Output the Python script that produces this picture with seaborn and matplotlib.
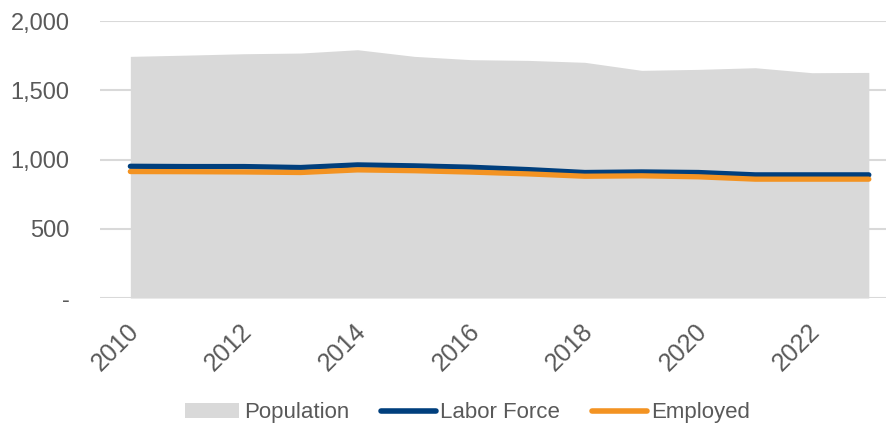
import numpy as np
import pandas as pd
import matplotlib
matplotlib.use("Agg")
import matplotlib.pyplot as plt
import matplotlib.transforms as mtransforms
import seaborn as sns
from matplotlib.patches import Patch
from matplotlib.lines import Line2D
from matplotlib.ticker import FuncFormatter

# ---- data ----
years = [2010, 2011, 2012, 2013, 2014, 2015, 2016, 2017, 2018, 2019, 2020, 2021, 2022, 2023]
population = [1746, 1755, 1765, 1770, 1794, 1746, 1722, 1717, 1703, 1645, 1652, 1664, 1628, 1630]
labor_force = [952, 950, 950, 943, 962, 955, 945, 928, 907, 911, 907, 890, 890, 890]
employed = [914, 913, 911, 907, 926, 920, 910, 897, 880, 883, 876, 859, 859, 859]

POP_COLOR = "#D9D9D9"
LF_COLOR = "#003F7D"
EMP_COLOR = "#F39322"
TEXT_COLOR = "#595959"

df = pd.DataFrame({"year": years, "Population": population,
                   "Labor Force": labor_force, "Employed": employed})

sns.set_style("white")
plt.rcParams['font.family'] = ['Liberation Sans', 'DejaVu Sans']

fig = plt.figure(figsize=(8.87, 4.24), dpi=100)
ax = fig.add_axes([0.113, 0.297, 0.887, 0.653])

ax.fill_between(df["year"], 0, df["Population"], color=POP_COLOR, lw=0, zorder=2)
sns.lineplot(data=df, x="year", y="Labor Force", color=LF_COLOR, lw=3.8,
             solid_capstyle="round", ax=ax, zorder=3)
sns.lineplot(data=df, x="year", y="Employed", color=EMP_COLOR, lw=3.8,
             solid_capstyle="round", ax=ax, zorder=4)

ax.set_xlim(2009.47, 2023.32)
ax.set_ylim(0, 2000)
ax.set_yticks([0, 500, 1000, 1500, 2000])
ax.yaxis.set_major_formatter(FuncFormatter(lambda v, p: "-" if v == 0 else f"{v:,.0f}"))
ax.set_xticks(years[::2])
ax.grid(axis="y", color="#D9D9D9", lw=1.5, zorder=0)
ax.set_axisbelow(True)
for s in ax.spines.values():
    s.set_visible(False)
ax.set_xlabel("")
ax.set_ylabel("")
ax.tick_params(axis="y", length=0, labelsize=17, labelcolor=TEXT_COLOR, pad=22)
ax.tick_params(axis="x", length=0, labelsize=18, labelcolor=TEXT_COLOR, pad=15)
shift = mtransforms.ScaledTranslation(-4 / 100, 0, fig.dpi_scale_trans)
for lbl in ax.get_xticklabels():
    lbl.set_rotation(45)
    lbl.set_ha("right")
    lbl.set_rotation_mode("anchor")
    lbl.set_transform(lbl.get_transform() + shift)

handles = [Patch(facecolor=POP_COLOR, edgecolor="none"),
           Line2D([0], [0], color=LF_COLOR, lw=4, solid_capstyle="round"),
           Line2D([0], [0], color=EMP_COLOR, lw=4, solid_capstyle="round")]
leg = fig.legend(handles, ["Population", "Labor Force", "Employed"],
                 loc="center", bbox_to_anchor=(0.527, 0.026), ncol=3, frameon=False,
                 prop={"family": ["Liberation Sans Narrow", "Liberation Sans"], "size": 16},
                 handlelength=2.45, handletextpad=0.2, columnspacing=1.45)
for t in leg.get_texts():
    t.set_color(TEXT_COLOR)

fig.savefig("out.png", dpi=100)
